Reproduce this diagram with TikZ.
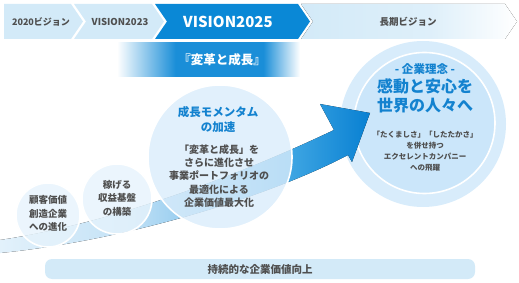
\documentclass[tikz,border=0pt]{standalone}
\usepackage{fontspec}
\setmainfont{Noto Sans CJK JP}
\usetikzlibrary{shapes.geometric}
\definecolor{segLight}{HTML}{D3EAF8}
\definecolor{segDark}{HTML}{0A88D6}
\definecolor{grayText}{HTML}{4F4F4F}
\definecolor{blueText}{HTML}{1382CF}
\definecolor{bigOuter}{HTML}{D8ECFB}
\definecolor{bigInner}{HTML}{CBE6FA}
\definecolor{midFill}{HTML}{D9ECFB}
\definecolor{smallFill}{HTML}{E6F3FC}
\definecolor{barFill}{HTML}{D3EAF8}
\definecolor{bannerBlue}{HTML}{1A8ED8}
\definecolor{swA}{HTML}{E2F1FB}
\definecolor{swB}{HTML}{C4E2F6}
\definecolor{swC}{HTML}{8CC8EE}
\definecolor{swD}{HTML}{3FA6E3}
\definecolor{swE}{HTML}{0880D2}
\pgfdeclarehorizontalshading{bannershade}{100bp}{color(0bp)=(white); color(25bp)=(white); color(41bp)=(bannerBlue); color(65bp)=(bannerBlue); color(75bp)=(white); color(100bp)=(white)}
\pgfdeclarehorizontalshading{swooshshade}{100bp}{color(0bp)=(swA); color(25bp)=(swA); color(42bp)=(swB); color(52bp)=(swC); color(64bp)=(swD); color(75bp)=(swE); color(100bp)=(swE)}
\pgfdeclarehorizontalshading{longshade}{100bp}{color(0bp)=(segLight); color(25bp)=(segLight); color(55bp)=(segLight!75!white); color(75bp)=(white); color(100bp)=(white)}
\tikzset{
  graytxt/.style={text=grayText, font=\bfseries\fontsize{9.5}{13.5}\selectfont, align=center, inner sep=0pt},
  bluetxt/.style={text=blueText, font=\bfseries\fontsize{11.5}{15}\selectfont, align=center, inner sep=0pt},
  ring/.style={draw=white, line width=1.6pt},
}
\begin{document}
\begin{tikzpicture}[x=1pt,y=-1pt]
\useasboundingbox (0,0) rectangle (519,283);
% top bar
\fill[segLight] (4,4) -- (71,4) -- (83,21.5) -- (71,39) -- (4,39) -- cycle;
\fill[segLight] (74,4) -- (152,4) -- (164,21.5) -- (152,39) -- (74,39) -- (86,21.5) -- cycle;
\fill[segDark] (155,4) -- (298,4) -- (310,21.5) -- (298,39) -- (155,39) -- (167,21.5) -- cycle;
\fill[shading=longshade] (301,4) -- (505,4) -- (517,21.5) -- (505,39) -- (301,39) -- (313,21.5) -- cycle;
\node[text=grayText, font=\bfseries\fontsize{9}{10}\selectfont, inner sep=0pt] (s1) at (41,21.5) {2020ビジョン};
\node[text=grayText, font=\bfseries\fontsize{9.5}{10}\selectfont, inner sep=0pt] (s2) at (120,21.5) {VISION2023};
\node[text=white, font=\bfseries\fontsize{15}{16}\selectfont, inner sep=0pt] (s3) at (228,21.5) {VISION2025};
\node[text=grayText, font=\bfseries\fontsize{9.5}{10}\selectfont, inner sep=0pt] (s4) at (408,21.5) {長期ビジョン};
% banner
\fill[shading=bannershade] (117,43) rectangle (300,77);
\node[text=white, font=\bfseries\fontsize{12.5}{14}\selectfont, inner sep=0pt] (ban) at (222,60) {『変革と成長』};
% big circle
\fill[bigOuter] (423,124) circle[radius=83];
\draw[ring, fill=bigInner] (424.5,123) circle[radius=70.5];
% swoosh arrow
\fill[shading=swooshshade] (0,240) .. controls (120,222) and (250,170) .. (334,130)
  -- (320,104) -- (370,113) -- (352,162) -- (348,155)
  .. controls (272,195) and (130,240) .. (0,253) -- cycle;
% circles
\draw[ring, fill=midFill, fill opacity=0.8] (220,157) circle[radius=72];
\draw[ring, fill=smallFill, fill opacity=0.8] (117,199) circle[radius=35];
\draw[ring, fill=smallFill, fill opacity=0.8] (48,215) circle[radius=32];
% texts
\node[graytxt] (c1) at (48,213.5) {顧客価値\\創造企業\\への進化};
\node[graytxt] (c2) at (117,198) {稼げる\\収益基盤\\の構築};
\node[bluetxt] (m1) at (218,119.5) {成長モメンタム\\の加速};
\node[graytxt, font=\bfseries\fontsize{10}{13.2}\selectfont] (m2) at (219,176) {「変革と成長」を\\さらに進化させ\\事業ポートフォリオの\\最適化による\\企業価値最大化};
\node[bluetxt] (b0) at (425,69) {- 企業理念 -};
\node[bluetxt, font=\bfseries\fontsize{16}{18.5}\selectfont] (b1) at (425,96) {感動と安心を\\世界の人々へ};
\node[graytxt, font=\bfseries\fontsize{7.5}{11}\selectfont] (b2) at (425,151.5) {「たくましさ」「したたかさ」\\を併せ持つ\\エクセレントカンパニー\\への飛躍};
% bottom bar
\fill[barFill, rounded corners=7pt] (45,259) rectangle (475,279);
\node[text=grayText, font=\bfseries\fontsize{10.5}{12}\selectfont, inner sep=0pt] (bot) at (260,269) {持続的な企業価値向上};
\end{tikzpicture}
\end{document}
